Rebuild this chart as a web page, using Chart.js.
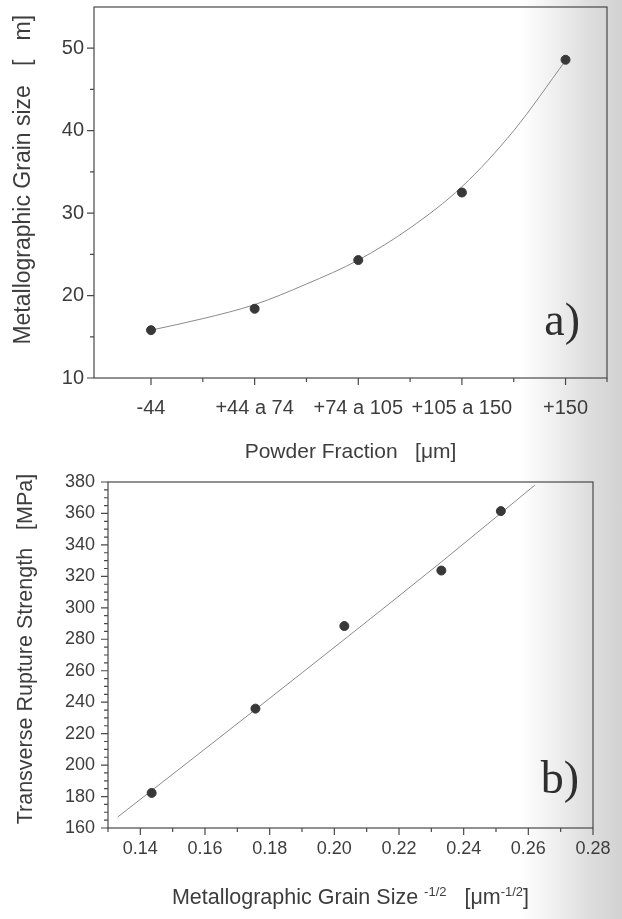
<!DOCTYPE html>
<html>
<head>
<meta charset="utf-8">
<script src="https://cdn.jsdelivr.net/npm/chart.js@4.4.1/dist/chart.umd.min.js"></script>
<style>
  html, body { margin: 0; padding: 0; }
  body {
    width: 622px; height: 919px; overflow: hidden; position: relative;
    background: linear-gradient(to right, #fff 0, #fff 520px, #efefef 555px, #dcdcdc 592px, #d2d2d2 622px);
  }
  canvas { position: absolute; left: 0; }
  #chartA { top: 0; }
  #chartB { top: 470px; }
</style>
</head>
<body>
<canvas id="chartA" width="622" height="470"></canvas>
<canvas id="chartB" width="622" height="449"></canvas>
<script>
// a) grain size vs powder fraction
var fractionLabels = ['-44', '+44 a 74', '+74 a 105', '+105 a 150', '+150'];
var fractionIndex  = [1, 2, 3, 4, 5];
var grainSize      = [15.8, 18.4, 24.3, 32.5, 48.6];
var grainFitX      = [1, 1.5, 2, 2.5, 3, 3.5, 4, 4.5, 5];
var grainFitY      = [15.8, 17.2, 18.9, 21.4, 24.3, 28.2, 33.2, 40.0, 48.5];
var grainTicks     = [10, 20, 30, 40, 50];

// b) rupture strength vs grain size^-1/2
var invSqrtGrain    = [0.1435, 0.1756, 0.2031, 0.2331, 0.2515];
var ruptureStrength = [182.3, 235.9, 288.4, 323.7, 361.5];
var ruptureFitX     = [0.133, 0.176, 0.233, 0.262];
var ruptureFitY     = [167, 236, 329, 378];
var strengthTicks   = [160, 180, 200, 220, 240, 260, 280, 300, 320, 340, 360, 380];
var invSqrtTicks    = [0.14, 0.16, 0.18, 0.20, 0.22, 0.24, 0.26, 0.28];

var ink = '#3d3d3d';
var sans = '"Liberation Sans", Arial, sans-serif';

function pairs(xs, ys) {
    return xs.map(function(x, i) { return { x: x, y: ys[i] }; });
}

function minorBetween(majors, step, lo, hi) {
    var out = [];
    for (var v = lo; v <= hi + 1e-9; v += step) {
        var hit = majors.some(function(m) { return Math.abs(m - v) < step / 10; });
        if (!hit) out.push(v);
    }
    return out;
}

// fixed box size, no extra room for overhanging labels
function fixSize(w, h) {
    return function(s) {
        if (w !== null) s.width = w;
        if (h !== null) s.height = h;
        s.paddingTop = s.paddingBottom = s.paddingLeft = s.paddingRight = 0;
    };
}

// box, tick marks, panel tag and optional composed x title
var framePlugin = {
    id: 'frame',
    afterDatasetsDraw: function(chart, args, opts) {
        var ctx = chart.ctx, a = chart.chartArea;
        var xs = chart.scales.x, ys = chart.scales.y;
        ctx.save();
        ctx.strokeStyle = '#484848';
        ctx.lineWidth = 1.2;
        ctx.strokeRect(a.left, a.top, a.right - a.left, a.bottom - a.top);

        ctx.beginPath();
        function xTick(v, len) {
            var p = xs.getPixelForValue(v);
            ctx.moveTo(p, a.bottom); ctx.lineTo(p, a.bottom + len);
        }
        function yTick(v, len) {
            var p = ys.getPixelForValue(v);
            ctx.moveTo(a.left, p); ctx.lineTo(a.left - len, p);
        }
        opts.xMajor.forEach(function(v) { xTick(v, 7); });
        opts.xMinor.forEach(function(v) { xTick(v, 4); });
        opts.yMajor.forEach(function(v) { yTick(v, 7); });
        opts.yMinor.forEach(function(v) { yTick(v, 4); });
        ctx.stroke();

        ctx.fillStyle = '#2e2e2e';
        ctx.font = '46px "Liberation Serif", "Times New Roman", serif';
        ctx.textAlign = 'right';
        ctx.textBaseline = 'alphabetic';
        ctx.fillText(opts.tag, a.right - opts.tagRight, a.bottom - opts.tagBottom);

        if (opts.titleParts) {
            var big = '21.5px ' + sans, small = '13px ' + sans;
            var total = 0;
            opts.titleParts.forEach(function(p) {
                ctx.font = p.sup ? small : big;
                total += ctx.measureText(p.text).width;
            });
            var x = (a.left + a.right) / 2 - total / 2;
            var base = opts.titleBaseline;
            ctx.textAlign = 'left';
            ctx.fillStyle = ink;
            opts.titleParts.forEach(function(p) {
                ctx.font = p.sup ? small : big;
                ctx.fillText(p.text, x, p.sup ? base - 8 : base);
                x += ctx.measureText(p.text).width;
            });
        }
        ctx.restore();
    }
};

new Chart(document.getElementById('chartA'), {
    type: 'scatter',
    data: {
        datasets: [{
            data: pairs(fractionIndex, grainSize),
            backgroundColor: '#383838',
            borderColor: '#383838',
            pointRadius: 4.5
        }, {
            data: pairs(grainFitX, grainFitY),
            showLine: true,
            cubicInterpolationMode: 'monotone',
            borderColor: '#8a8a8a',
            borderWidth: 1,
            pointRadius: 0
        }]
    },
    options: {
        responsive: false,
        animation: false,
        layout: { padding: { top: 7, right: 15, left: 0, bottom: 0 } },
        plugins: {
            legend: { display: false },
            tooltip: { enabled: false },
            frame: {
                xMajor: fractionIndex,
                xMinor: [1.5, 2.5, 3.5, 4.5, 5.4],
                yMajor: grainTicks,
                yMinor: [15, 25, 35, 45],
                tag: 'a)', tagRight: 27, tagBottom: 43
            }
        },
        scales: {
            x: {
                type: 'linear', min: 0.45, max: 5.4,
                afterFit: fixSize(null, 92),
                afterBuildTicks: function(s) { s.ticks = fractionIndex.map(function(v) { return { value: v }; }); },
                grid: { display: false, drawTicks: false },
                border: { display: false },
                ticks: {
                    autoSkip: false, maxRotation: 0, padding: 18,
                    color: ink, font: { family: sans, size: 20 },
                    callback: function(v, i) { return fractionLabels[i]; }
                },
                title: {
                    display: true, text: 'Powder Fraction   [\u03bcm]',
                    color: ink, font: { family: sans, size: 21 },
                    padding: { top: 0, bottom: 5 }
                }
            },
            y: {
                min: 10, max: 55,
                afterFit: fixSize(94, null),
                afterBuildTicks: function(s) { s.ticks = grainTicks.map(function(v) { return { value: v }; }); },
                grid: { display: false, drawTicks: false },
                border: { display: false },
                ticks: { padding: 10, color: ink, font: { family: sans, size: 20 } },
                title: {
                    display: true, text: '    Metallographic Grain size   [   m]',
                    color: ink, font: { family: sans, size: 23 },
                    padding: { top: 10, bottom: 0 }
                }
            }
        }
    },
    plugins: [framePlugin]
});

new Chart(document.getElementById('chartB'), {
    type: 'scatter',
    data: {
        datasets: [{
            data: pairs(invSqrtGrain, ruptureStrength),
            backgroundColor: '#383838',
            borderColor: '#383838',
            pointRadius: 4.5
        }, {
            data: pairs(ruptureFitX, ruptureFitY),
            showLine: true,
            cubicInterpolationMode: 'monotone',
            borderColor: '#8a8a8a',
            borderWidth: 1,
            pointRadius: 0
        }]
    },
    options: {
        responsive: false,
        animation: false,
        layout: { padding: { top: 12, right: 29, left: 0, bottom: 0 } },
        plugins: {
            legend: { display: false },
            tooltip: { enabled: false },
            frame: {
                xMajor: invSqrtTicks,
                xMinor: minorBetween(invSqrtTicks, 0.01, 0.13, 0.27),
                yMajor: strengthTicks,
                yMinor: minorBetween(strengthTicks, 5, 160, 380),
                tag: 'b)', tagRight: 14, tagBottom: 35,
                titleBaseline: 434,
                titleParts: [
                    { text: 'Metallographic Grain Size ' },
                    { text: '-1/2', sup: true },
                    { text: '   [\u03bcm' },
                    { text: '-1/2', sup: true },
                    { text: ']' }
                ]
            }
        },
        scales: {
            x: {
                type: 'linear', min: 0.13, max: 0.28,
                afterFit: fixSize(null, 91),
                afterBuildTicks: function(s) { s.ticks = invSqrtTicks.map(function(v) { return { value: v }; }); },
                grid: { display: false, drawTicks: false },
                border: { display: false },
                ticks: {
                    autoSkip: false, maxRotation: 0, padding: 10,
                    color: ink, font: { family: sans, size: 18 },
                    callback: function(v) { return v.toFixed(2); }
                }
            },
            y: {
                min: 160, max: 380,
                afterFit: fixSize(108, null),
                afterBuildTicks: function(s) { s.ticks = strengthTicks.map(function(v) { return { value: v }; }); },
                grid: { display: false, drawTicks: false },
                border: { display: false },
                ticks: { padding: 13, autoSkip: false, color: ink, font: { family: sans, size: 18 } },
                title: {
                    display: true, text: '  Transverse Rupture Strength   [MPa]',
                    color: ink, font: { family: sans, size: 21.5 },
                    padding: { top: 13, bottom: 0 }
                }
            }
        }
    },
    plugins: [framePlugin]
});
</script>
</body>
</html>
